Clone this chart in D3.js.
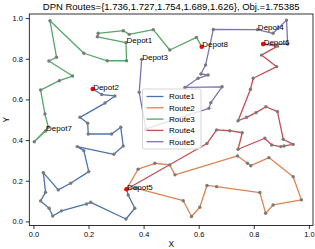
<!DOCTYPE html>
<html>
<head>
<meta charset="utf-8">
<script src="https://cdn.jsdelivr.net/npm/d3@7"></script>
<style>
  body { margin: 0; background: #fff; }
  text { font-family: "Liberation Sans", Arial, sans-serif; }
</style>
</head>
<body>
<script>
// objective values in the title
var routeCosts = [1.736, 1.727, 1.754, 1.689, 1.626];
var objective = 1.75385;

var routeNames = ['Route1', 'Route2', 'Route3', 'Route4', 'Route5'];

var depotNames = ['Depot1', 'Depot2', 'Depot3', 'Depot4', 'Depot5', 'Depot6', 'Depot7', 'Depot8'];
var depotX = [0.336, 0.215, 0.393, 0.813, 0.338, 0.834, 0.044, 0.611];
var depotY = [0.879, 0.651, 0.797, 0.943, 0.158, 0.872, 0.445, 0.859];
// depots drawn as red dots
var activeDepots = ['Depot2', 'Depot5', 'Depot6', 'Depot8'];

var route1 = [[0.215,0.651],[0.248,0.624],[0.296,0.617],[0.260,0.582],[0.169,0.512],[0.197,0.483],
  [0.199,0.430],[0.284,0.430],[0.317,0.463],[0.326,0.371],[0.292,0.330],[0.159,0.368],[0.183,0.348],
  [0.201,0.245],[0.135,0.188],[0.090,0.155],[0.036,0.240],[0.044,0.143],[0.026,0.101],[0.057,0.065],
  [0.070,0.027],[0.102,0.052],[0.193,0.086],[0.208,0.094],[0.336,0.012],[0.368,0.065],[0.344,0.130],
  [0.338,0.158]];

var route2 = [[0.338,0.158],[0.380,0.257],[0.441,0.286],[0.495,0.278],[0.514,0.229],[0.741,0.322],
  [0.777,0.286],[0.789,0.274],[0.855,0.314],[0.943,0.220],[0.973,0.106],[0.870,0.081],[0.843,0.040],
  [0.822,0.142],[0.665,0.171],[0.630,0.177],[0.604,0.070],[0.574,0.024],[0.544,0.102],[0.375,0.163],
  [0.338,0.158]];

var route3 = [[0.611,0.859],[0.592,0.905],[0.495,0.843],[0.435,0.943],[0.348,0.920],[0.326,0.938],
  [0.235,0.925],[0.232,0.908],[0.336,0.879],[0.338,0.790],[0.268,0.790],[0.183,0.827],[0.060,0.987],
  [0.084,0.807],[0.056,0.789],[0.142,0.715],[0.094,0.692],[0.026,0.646],[0.042,0.528],[0.054,0.463],
  [0.003,0.392],[0.044,0.445]];

var route4 = [[0.834,0.872],[0.886,0.862],[0.828,0.818],[0.883,0.761],[0.798,0.704],[0.788,0.650],
  [0.743,0.495],[0.774,0.512],[0.808,0.535],[0.844,0.564],[0.886,0.540],[0.907,0.404],[0.943,0.379],
  [0.910,0.371],[0.898,0.368],[0.865,0.376],[0.840,0.409],[0.743,0.355],[0.758,0.436],[0.713,0.446],
  [0.665,0.450],[0.630,0.383],[0.338,0.158]];

var route5 = [[0.393,0.797],[0.384,0.635],[0.408,0.455],[0.637,0.556],[0.644,0.584],[0.685,0.662],
  [0.550,0.659],[0.598,0.704],[0.634,0.720],[0.608,0.725],[0.625,0.769],[0.653,0.944],[0.813,0.943],
  [0.870,0.925],[0.919,0.990],[0.923,0.872],[0.834,0.872]];

var routes = [route1, route2, route3, route4, route5];
var colors = ['#4c72b0', '#dd8452', '#55a868', '#c44e52', '#8172b3'];

var W = 315, H = 249;
var mLeft = 29.3, mRight = 313, mTop = 14, mBottom = 225.5;

var svg = d3.select('body').append('svg')
  .attr('width', W).attr('height', H);

var x = d3.scaleLinear().domain([-0.015, 1.015]).range([mLeft, mRight]);
var y = d3.scaleLinear().domain([-0.02, 1.02]).range([mBottom, mTop]);

var ticks = [0, 0.2, 0.4, 0.6, 0.8, 1.0];

// axes
var xAxis = svg.append('g')
  .attr('transform', 'translate(0,' + mBottom + ')')
  .call(d3.axisBottom(x).tickValues(ticks).tickFormat(d3.format('.1f')).tickSize(3.5).tickPadding(2.5));
var yAxis = svg.append('g')
  .attr('transform', 'translate(' + mLeft + ',0)')
  .call(d3.axisLeft(y).tickValues(ticks).tickFormat(d3.format('.1f')).tickSize(3.5).tickPadding(3));
[xAxis, yAxis].forEach(function(a){
  a.select('.domain').remove();
  a.selectAll('line').attr('stroke', '#000').attr('stroke-width', 0.8);
  a.selectAll('text').style('font-size', '7.4px').attr('fill', '#000')
    .style('font-family', '"Liberation Sans", Arial, sans-serif');
});

var line = d3.line()
  .x(function(d){ return x(d[0]); })
  .y(function(d){ return y(d[1]); });

var plot = svg.append('g');

routes.forEach(function(r, i){
  plot.append('path')
    .attr('d', line(r))
    .attr('fill', 'none')
    .attr('stroke', colors[i])
    .attr('stroke-width', 1.3)
    .attr('stroke-linejoin', 'round');
});

routes.forEach(function(r){
  plot.append('g').selectAll('circle')
    .data(r).enter().append('circle')
    .attr('cx', function(d){ return x(d[0]); })
    .attr('cy', function(d){ return y(d[1]); })
    .attr('r', 1.7)
    .attr('fill', '#7a7a7a');
});

// depots
plot.append('g').selectAll('circle')
  .data(depotNames.filter(function(n){ return activeDepots.indexOf(n) >= 0; }))
  .enter().append('circle')
  .attr('cx', function(d){ return x(depotX[depotNames.indexOf(d)]); })
  .attr('cy', function(d){ return y(depotY[depotNames.indexOf(d)]); })
  .attr('r', 2.3)
  .attr('fill', 'red');

plot.append('g').selectAll('text')
  .data(depotNames).enter().append('text')
  .text(function(d){ return d; })
  .attr('x', function(d, i){ return x(depotX[i]) + 0.5; })
  .attr('y', function(d, i){ return y(depotY[i]) + 0.5; })
  .style('font-size', '8px')
  .attr('fill', '#000');

// frame
svg.append('rect')
  .attr('x', mLeft).attr('y', mTop)
  .attr('width', mRight - mLeft).attr('height', mBottom - mTop)
  .attr('fill', 'none').attr('stroke', '#000').attr('stroke-width', 0.8);

// legend
var lg = svg.append('g').attr('transform', 'translate(142.5,89)');
lg.append('rect')
  .attr('width', 58.5).attr('height', 60)
  .attr('rx', 2)
  .attr('fill', 'white').attr('fill-opacity', 0.8)
  .attr('stroke', '#cccccc').attr('stroke-width', 0.8);
routeNames.forEach(function(n, i){
  var yy = 7.5 + i * 11.3;
  lg.append('line')
    .attr('x1', 4).attr('x2', 21).attr('y1', yy).attr('y2', yy)
    .attr('stroke', colors[i]).attr('stroke-width', 1.3);
  lg.append('text')
    .attr('x', 26.5).attr('y', yy + 2.9)
    .text(n)
    .style('font-size', '8px')
    .attr('fill', '#000');
});

// title and labels
svg.append('text')
  .attr('x', (mLeft + mRight) / 2).attr('y', 9.7)
  .attr('text-anchor', 'middle')
  .style('font-size', '9.5px')
  .text('DPN Routes={' + routeCosts.join(',') + '}, Obj.=' + objective);

svg.append('text')
  .attr('x', (mLeft + mRight) / 2).attr('y', 247.3)
  .attr('text-anchor', 'middle')
  .style('font-size', '8.3px')
  .text('X');

svg.append('text')
  .attr('transform', 'translate(9,' + ((mTop + mBottom) / 2) + ') rotate(-90)')
  .attr('text-anchor', 'middle')
  .style('font-size', '8.3px')
  .text('Y');
</script>
</body>
</html>
